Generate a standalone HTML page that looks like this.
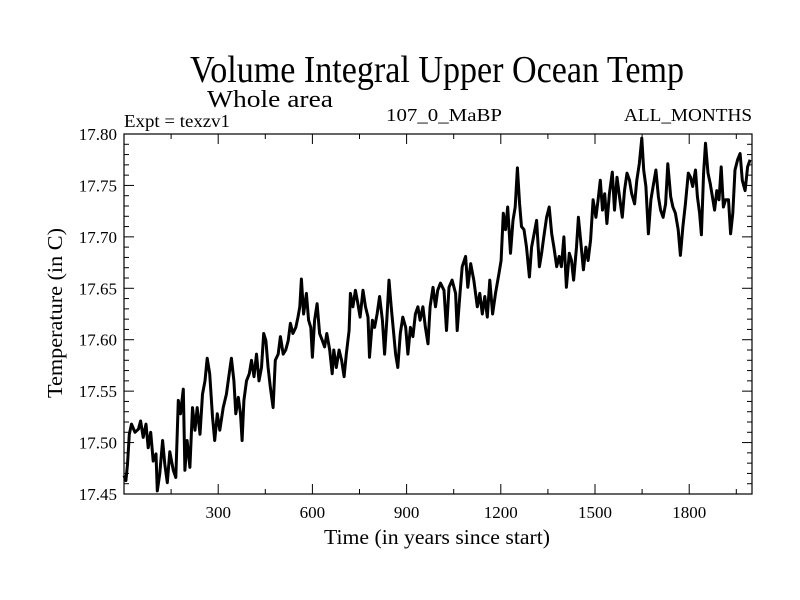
<!DOCTYPE html>
<html><head><meta charset="utf-8"><style>
html,body{margin:0;padding:0;background:#fff;}
svg{display:block;font-family:"Liberation Serif",serif;}
</style></head><body>
<svg id="chart" width="800" height="600" viewBox="0 0 800 600" xmlns="http://www.w3.org/2000/svg">
<rect width="800" height="600" fill="#fff"/>
<text x="190" y="82" font-size="38" textLength="494" lengthAdjust="spacingAndGlyphs">Volume Integral Upper Ocean Temp</text>
<text x="207" y="107" font-size="24" textLength="126" lengthAdjust="spacingAndGlyphs">Whole area</text>
<text x="124" y="127" font-size="18" textLength="106" lengthAdjust="spacingAndGlyphs">Expt = texzv1</text>
<text x="386" y="121" font-size="18" textLength="116" lengthAdjust="spacingAndGlyphs">107_0_MaBP</text>
<text x="624" y="121" font-size="18" textLength="128" lengthAdjust="spacingAndGlyphs">ALL_MONTHS</text>
<g id="axes"></g>
<g id="series"></g>
<text x="437" y="544" font-size="21" text-anchor="middle" textLength="226" lengthAdjust="spacingAndGlyphs">Time (in years since start)</text>
<text x="0" y="0" font-size="21" text-anchor="middle" transform="translate(62,313) rotate(-90)" textLength="170" lengthAdjust="spacingAndGlyphs">Temperature (in C)</text>
</svg>
<script>
const years = [0,6,11,17,24,35,46,53,61,70,77,85,93,102,106,114,123,130,138,146,157,165,173,180,189,194,201,210,218,226,233,242,250,258,265,273,282,289,297,305,316,326,335,342,350,356,364,371,376,382,390,399,406,414,422,430,438,445,452,459,466,475,482,491,498,507,515,523,530,538,547,554,560,565,572,581,588,595,600,607,615,623,632,639,646,655,663,668,676,685,693,701,708,717,721,729,737,745,752,761,769,777,782,791,798,806,814,823,830,837,844,851,859,865,872,880,888,897,904,912,920,928,936,943,952,960,968,975,984,992,999,
1008,1019,1027,1035,1045,1056,1061,1070,1077,1088,1095,1104,1114,1125,1133,1141,1149,1157,1165,1174,1183,1194,1201,1208,1215,1222,1231,1239,1246,1253,1260,1266,1274,1282,1291,1298,1306,1314,1323,1330,1337,1346,1354,1362,1369,1378,1386,1393,1401,1409,1418,1425,1432,1441,1447,1454,1463,1471,1478,1486,1494,1503,1510,1517,1524,1531,1538,1546,1555,1562,1570,1578,1587,1594,1602,1610,1617,1626,1633,1641,1649,1655,1662,1670,1678,1685,1694,1702,1709,1717,1725,1732,1741,1748,1756,1765,1772,1780,1788,1797,1804,1811,1820,1826,1833,1839,1846,1852,1860,1867,1874,1881,1888,1895,1902,1909,1916,1925,1932,1939,1946,1954,1962,1969,1978,1986,1994];
const temps = [17.468,17.463,17.479,17.508,17.518,17.510,17.513,17.521,17.505,17.518,17.495,17.510,17.482,17.489,17.453,17.470,17.502,17.479,17.461,17.491,17.473,17.466,17.541,17.528,17.552,17.473,17.502,17.476,17.534,17.512,17.534,17.508,17.547,17.560,17.582,17.567,17.525,17.502,17.528,17.512,17.534,17.547,17.567,17.582,17.560,17.528,17.544,17.528,17.502,17.541,17.560,17.567,17.580,17.564,17.586,17.560,17.573,17.606,17.599,17.573,17.554,17.534,17.580,17.586,17.603,17.586,17.590,17.599,17.616,17.606,17.612,17.622,17.632,17.659,17.625,17.645,17.619,17.612,17.583,17.619,17.635,17.606,17.599,17.593,17.606,17.590,17.567,17.590,17.573,17.590,17.580,17.564,17.586,17.609,17.645,17.632,17.648,17.635,17.622,17.648,17.632,17.622,17.583,17.619,17.612,17.625,17.642,17.619,17.586,17.619,17.658,17.632,17.606,17.586,17.573,17.606,17.622,17.612,17.586,17.612,17.603,17.625,17.632,17.619,17.632,17.612,17.596,17.632,17.651,17.632,17.648,
17.655,17.648,17.609,17.651,17.658,17.645,17.609,17.645,17.671,17.681,17.651,17.674,17.658,17.632,17.645,17.625,17.642,17.622,17.658,17.625,17.645,17.664,17.677,17.723,17.707,17.729,17.684,17.716,17.729,17.767,17.732,17.710,17.707,17.690,17.661,17.690,17.703,17.716,17.671,17.684,17.700,17.719,17.729,17.703,17.690,17.671,17.681,17.671,17.700,17.651,17.684,17.677,17.658,17.690,17.719,17.697,17.668,17.690,17.677,17.697,17.736,17.719,17.736,17.755,17.726,17.742,17.713,17.742,17.763,17.726,17.758,17.739,17.719,17.745,17.762,17.755,17.742,17.732,17.755,17.771,17.796,17.765,17.749,17.703,17.736,17.749,17.765,17.739,17.726,17.719,17.732,17.771,17.739,17.729,17.723,17.707,17.682,17.710,17.732,17.762,17.758,17.749,17.765,17.739,17.723,17.702,17.762,17.791,17.762,17.752,17.739,17.726,17.745,17.736,17.768,17.729,17.736,17.736,17.703,17.723,17.765,17.775,17.781,17.755,17.745,17.768,17.775];
const xTicks = [300,600,900,1200,1500,1800];
const yTicks = [17.45,17.50,17.55,17.60,17.65,17.70,17.75,17.80];
const yLabels = ["17.45","17.50","17.55","17.60","17.65","17.70","17.75","17.80"];

const L=124,R=752,T=134,B=494,X0=0,X1=2000,Y0=17.45,Y1=17.80;
const sx=v=>L+(v-X0)/(X1-X0)*(R-L);
const sy=v=>B-(v-Y0)/(Y1-Y0)*(B-T);
const NS='http://www.w3.org/2000/svg';
function mk(tag,attrs,parent){const e=document.createElementNS(NS,tag);for(const k in attrs)e.setAttribute(k,attrs[k]);parent.appendChild(e);return e;}
const ax=document.getElementById('axes');
const frame=mk('rect',{x:L,y:T,width:R-L,height:B-T,fill:'none',stroke:'#000','stroke-width':1.2},ax);


for(let v=150;v<X1;v+=150){
  const major=v%300===0, len=major?10:5, x=sx(v);
  const t1=mk('line',{x1:x,x2:x,y1:B,y2:B-len,stroke:'#000','stroke-width':1},ax);
  
  
  const t2=mk('line',{x1:x,x2:x,y1:T,y2:T+len,stroke:'#000','stroke-width':1},ax);
  
  
}
xTicks.forEach(v=>{
  const t=mk('text',{x:sx(v),y:B+24,'font-size':17,'text-anchor':'middle'},ax);
  t.textContent=String(v);
  
  
});
for(let i=0;i<=35;i++){
  const v=Y0+i*0.01, major=i%5===0, len=major?10:5, y=sy(v);
  const t1=mk('line',{x1:L,x2:L+len,y1:y,y2:y,stroke:'#000','stroke-width':1},ax);
  
  
  const t2=mk('line',{x1:R,x2:R-len,y1:y,y2:y,stroke:'#000','stroke-width':1},ax);
  
  
}
yTicks.forEach((v,i)=>{
  const t=mk('text',{x:L-7,y:sy(v)+6,'font-size':17,'text-anchor':'end'},ax);
  t.textContent=yLabels[i];
  
  
});
const pts=years.map((y,i)=>sx(y).toFixed(1)+','+sy(temps[i]).toFixed(1)).join(' ');
const line=mk('polyline',{points:pts,fill:'none',stroke:'#000','stroke-width':3,'stroke-linejoin':'round'},document.getElementById('series'));


</script>
</body></html>
